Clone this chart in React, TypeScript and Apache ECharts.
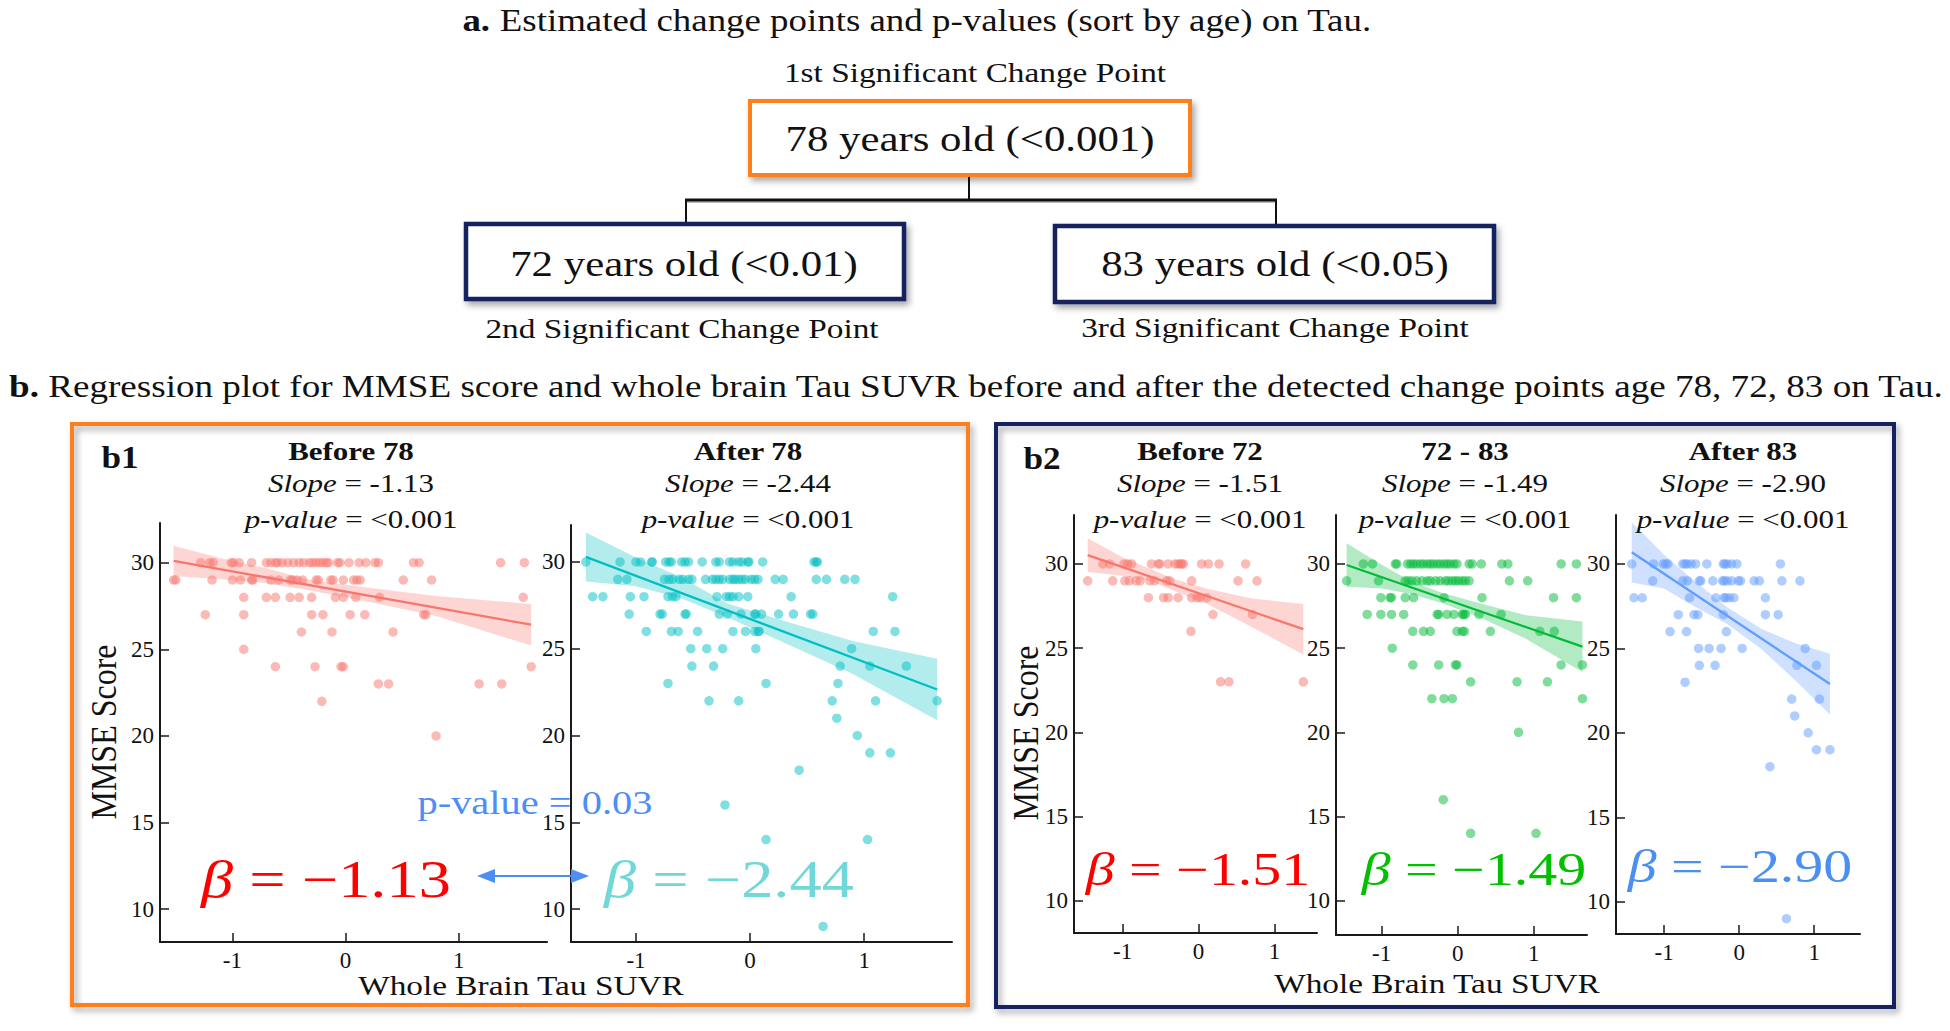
import React, { useEffect, useRef } from "react";
import * as echarts from "echarts";

// ---------- tick labels ----------
const yTicks = [10, 15, 20, 25, 30];
const xTicks = [-1, 0, 1];

// ---------- scatter data: [MMSE score, [Tau SUVR values...]] ----------
const before78: [number, number[]][] = [
  [30, [-1.28, -1.2, -1.17, -1.01, -0.99, -0.94, -0.83, -0.7, -0.66, -0.62, -0.6, -0.56, -0.51, -0.46, -0.41, -0.37, -0.32, -0.29, -0.26, -0.23, -0.2, -0.17, -0.15, -0.07, -0.05, 0.03, 0.12, 0.18, 0.26, 0.29, 0.6, 0.65, 1.37, 1.58]],
  [29, [-1.52, -1.5, -1.18, -1.0, -0.93, -0.83, -0.82, -0.66, -0.59, -0.49, -0.47, -0.43, -0.38, -0.26, -0.24, -0.13, -0.11, -0.02, 0.07, 0.1, 0.13, 0.51, 0.76]],
  [28, [-0.9, -0.7, -0.62, -0.49, -0.41, -0.3, -0.09, -0.02, 0.09, 0.3, 1.57]],
  [27, [-1.24, -0.9, -0.3, -0.2, 0.04, 0.17, 0.69, 0.71]],
  [26, [-0.39, -0.12, 0.42]],
  [25, [-0.9]],
  [24, [-0.62, -0.27, -0.04, -0.02, 1.64]],
  [23, [0.29, 0.38, 1.18, 1.38]],
  [22, [-0.21]],
  [20, [0.8]],
];
const after78: [number, number[]][] = [
  [30, [-1.44, -1.14, -1.0, -0.96, -0.86, -0.86, -0.74, -0.71, -0.69, -0.6, -0.57, -0.54, -0.42, -0.3, -0.27, -0.18, -0.15, -0.1, -0.07, -0.02, -0.01, 0.11, 0.56, 0.58, 0.59]],
  [29, [-1.16, -1.08, -0.75, -0.71, -0.68, -0.62, -0.59, -0.54, -0.51, -0.39, -0.33, -0.3, -0.27, -0.24, -0.18, -0.15, -0.13, -0.1, -0.07, -0.04, 0.01, 0.04, 0.07, 0.22, 0.29, 0.58, 0.67, 0.83, 0.92]],
  [28, [-1.38, -1.29, -1.05, -0.93, -0.72, -0.68, -0.65, -0.29, -0.21, -0.18, -0.15, -0.1, -0.02, 0.36, 1.25]],
  [27, [-1.06, -0.79, -0.77, -0.57, -0.56, -0.27, -0.2, -0.08, 0.04, 0.05, 0.1, 0.25, 0.38, 0.53, 0.55]],
  [26, [-0.91, -0.69, -0.63, -0.46, -0.15, -0.04, 0.04, 0.07, 0.08, 1.08, 1.27]],
  [25, [-0.52, -0.38, -0.24, 0.05, 0.89]],
  [24, [-0.51, -0.32, 0.79, 1.05, 1.37]],
  [23, [-0.72, 0.14, 0.77]],
  [22, [-0.36, -0.1, 0.72, 1.1, 1.64]],
  [21, [0.76]],
  [20, [0.94]],
  [19, [1.05, 1.23]],
  [18, [0.43]],
  [16, [-0.22]],
  [14, [0.14, 1.03]],
  [9, [0.64]],
];
const before72: [number, number[]][] = [
  [30, [-1.26, -1.17, -0.98, -0.93, -0.88, -0.62, -0.53, -0.51, -0.4, -0.31, -0.27, -0.24, -0.22, -0.2, 0.04, 0.13, 0.27, 0.62]],
  [29, [-1.46, -1.13, -0.97, -0.91, -0.82, -0.77, -0.64, -0.58, -0.42, -0.38, -0.09, 0.52, 0.77]],
  [28, [-0.66, -0.46, -0.4, -0.27, -0.09, -0.02, 0.02, 0.11]],
  [27, [0.19, 0.71]],
  [26, [-0.1]],
  [23, [0.29, 0.4, 1.38]],
];
const from72to83: [number, number[]][] = [
  [30, [-1.24, -1.12, -0.82, -0.8, -0.66, -0.62, -0.58, -0.54, -0.49, -0.45, -0.4, -0.36, -0.32, -0.27, -0.23, -0.18, -0.14, -0.1, -0.05, -0.01, 0.15, 0.19, 0.31, 0.58, 0.66, 1.36, 1.56]],
  [29, [-1.46, -1.04, -0.69, -0.65, -0.6, -0.54, -0.47, -0.4, -0.36, -0.29, -0.23, -0.16, -0.12, -0.07, -0.03, 0.01, 0.06, 0.1, 0.15, 0.68, 0.92]],
  [28, [-1.01, -0.89, -0.87, -0.69, -0.58, -0.18, 0.32, 1.26, 1.56]],
  [27, [-1.19, -1.01, -0.87, -0.71, -0.27, -0.25, -0.14, -0.05, 0.06, 0.08, 0.1, 0.28, 0.57]],
  [26, [-0.59, -0.45, -0.36, -0.01, 0.06, 0.09, 0.43, 1.08, 1.27]],
  [25, [-0.86]],
  [24, [-0.59, -0.25, -0.03, -0.01, 1.36, 1.64]],
  [23, [0.17, 0.78, 1.18]],
  [22, [-0.34, -0.18, -0.07, 1.64]],
  [20, [0.8]],
  [16, [-0.19]],
  [14, [0.17, 1.03]],
];
const after83: [number, number[]][] = [
  [30, [-1.43, -1.14, -1.01, -0.98, -0.95, -0.75, -0.72, -0.69, -0.64, -0.58, -0.43, -0.21, -0.19, -0.16, -0.1, -0.03, 0.55]],
  [29, [-1.15, -0.75, -0.69, -0.53, -0.51, -0.35, -0.22, -0.2, -0.16, -0.1, -0.01, 0.02, 0.2, 0.27, 0.57, 0.81]],
  [28, [-1.4, -1.29, -0.66, -0.31, -0.2, -0.18, -0.13, -0.07, 0.35]],
  [27, [-0.81, -0.6, -0.55, -0.21, 0.35, 0.52]],
  [26, [-0.92, -0.7, -0.17]],
  [25, [-0.54, -0.4, -0.24, 0.04, 0.88]],
  [24, [-0.53, -0.32, 0.77, 1.03]],
  [23, [-0.72]],
  [22, [0.7, 1.07]],
  [21, [0.74]],
  [20, [0.92]],
  [19, [1.03, 1.21]],
  [18, [0.41]],
  [9, [0.63]],
];

// ---------- regression lines (end points) ----------
const fitBefore78 = [[-1.52, 30.1], [1.64, 26.42]];
const fitAfter78 = [[-1.44, 30.29], [1.64, 22.65]];
const fitBefore72 = [[-1.46, 30.53], [1.38, 26.13]];
const fit72to83 = [[-1.46, 29.94], [1.64, 25.09]];
const fitAfter83 = [[-1.43, 30.69], [1.21, 22.89]];

// ---------- confidence bands ----------
const bandBefore78X = [-1.52, -1.1, -0.7, -0.3, 0.2, 0.8, 1.64];
const bandBefore78Up = [30.97, 30.25, 29.68, 28.98, 28.55, 28.08, 27.62];
const bandBefore78Lo = [29.23, 29.05, 28.82, 28.38, 27.75, 26.92, 25.22];
const bandAfter78X = [-1.44, -1.0, -0.6, -0.2, 0.3, 0.9, 1.64];
const bandAfter78Up = [31.7, 30.25, 29.1, 27.61, 26.6, 25.45, 24.42];
const bandAfter78Lo = [28.88, 28.6, 27.9, 26.81, 25.35, 23.55, 20.88];
const bandBefore72X = [-1.46, -1.0, -0.6, -0.35, 0.1, 0.7, 1.38];
const bandBefore72Up = [31.53, 30.4, 29.65, 29.16, 28.55, 27.95, 27.63];
const bandBefore72Lo = [29.53, 29.3, 28.95, 28.46, 27.65, 26.25, 24.63];
const band72to83X = [-1.46, -1.0, -0.6, -0.2, 0.3, 0.9, 1.64];
const band72to83Up = [31.23, 29.95, 28.95, 28.27, 27.65, 26.95, 26.59];
const band72to83Lo = [28.65, 28.55, 28.2, 27.67, 26.8, 25.55, 23.59];
const bandAfter83X = [-1.43, -1.0, -0.6, -0.15, 0.3, 0.75, 1.21];
const bandAfter83Up = [32.47, 30.55, 29.0, 27.41, 26.15, 25.3, 24.69];
const bandAfter83Lo = [28.91, 28.55, 27.5, 26.41, 24.95, 23.1, 21.09];

// ---------- labels ----------
const panelTitles = ["Before 78", "After 78", "Before 72", "72 - 83", "After 83"];
const slopeTexts = ["-1.13", "-2.44", "-1.51", "-1.49", "-2.90"];
const pTexts = ["<0.001", "<0.001", "<0.001", "<0.001", "<0.001"];
const betaTexts = ["\u22121.13", "\u22122.44", "\u22121.51", "\u22121.49", "\u22122.90"];

const FONT = "'Liberation Serif', 'Times New Roman', serif";
const SX = 1.19;
const ORANGE = "#FF7F1A";
const NAVY = "#14205E";
const pointColors = ["#F8766D", "#00BFC4", "#F8766D", "#00BA38", "#619CFF"];
const betaColors = ["#FF0000", "#70D8D8", "#FF0000", "#00C000", "#4A8FF2"];

const plots = [
  { pts: before78, fit: fitBefore78, bx: bandBefore78X, bu: bandBefore78Up, bl: bandBefore78Lo },
  { pts: after78, fit: fitAfter78, bx: bandAfter78X, bu: bandAfter78Up, bl: bandAfter78Lo },
  { pts: before72, fit: fitBefore72, bx: bandBefore72X, bu: bandBefore72Up, bl: bandBefore72Lo },
  { pts: from72to83, fit: fit72to83, bx: band72to83X, bu: band72to83Up, bl: band72to83Lo },
  { pts: after83, fit: fitAfter83, bx: bandAfter83X, bu: bandAfter83Up, bl: bandAfter83Lo },
];

// layout of the five plot areas
const layout = [
  { left: 160, top: 523, width: 387, height: 419, xMin: -1.64, xMax: 1.78, yMin: 8.11, yMax: 32.29, tx: 351, bx: 326, by: 880, bs: 52, bsx: 1.24 },
  { left: 571, top: 525, width: 381, height: 417, xMin: -1.57, xMax: 1.77, yMin: 8.1, yMax: 32.13, tx: 748, bx: 729, by: 880, bs: 52, bsx: 1.24 },
  { left: 1074, top: 515, width: 243, height: 418, xMin: -1.64, xMax: 1.56, yMin: 8.08, yMax: 32.91, tx: 1200, bx: 1198, by: 869, bs: 46, bsx: 1.26 },
  { left: 1336, top: 515, width: 251, height: 420, xMin: -1.6, xMax: 1.7, yMin: 7.96, yMax: 32.91, tx: 1465, bx: 1474, by: 869, bs: 46, bsx: 1.26 },
  { left: 1616, top: 515, width: 244, height: 419, xMin: -1.64, xMax: 1.61, yMin: 8.09, yMax: 32.9, tx: 1743, bx: 1740, by: 866, bs: 46, bsx: 1.26 },
];

function T(x: number, y: number, text: string, size: number, o: any = {}) {
  return {
    type: "text",
    x,
    y,
    scaleX: o.sx ?? SX,
    scaleY: o.sy ?? 1,
    rotation: o.rot ?? 0,
    z: 100,
    style: {
      text,
      fontSize: size,
      fontFamily: o.family ?? FONT,
      fontWeight: o.bold ? "bold" : "normal",
      fontStyle: o.italic ? "italic" : "normal",
      fill: o.color ?? "#111",
      align: o.align ?? "center",
      verticalAlign: "middle",
      rich: o.rich,
    },
  };
}

function buildOption() {
  const axisLine = { show: true, onZero: false, lineStyle: { color: "#1a1a1a", width: 2 } };
  const tickStyle = { color: "#1a1a1a", width: 1.5 };
  const labelStyle = { fontSize: 23, fontFamily: FONT, color: "#111" };

  const grid = layout.map((g) => ({ left: g.left, top: g.top, width: g.width, height: g.height, containLabel: false }));
  const xAxis = layout.map((g, i) => ({
    type: "value",
    gridIndex: i,
    min: g.xMin,
    max: g.xMax,
    axisLine,
    axisTick: { show: true, inside: true, length: 9, lineStyle: tickStyle, customValues: xTicks },
    axisLabel: { ...labelStyle, margin: 7, customValues: xTicks },
    splitLine: { show: false },
  }));
  const yAxis = layout.map((g, i) => ({
    type: "value",
    gridIndex: i,
    min: g.yMin,
    max: g.yMax,
    axisLine,
    axisTick: { show: true, inside: true, length: 9, lineStyle: tickStyle, customValues: yTicks },
    axisLabel: { ...labelStyle, margin: 6, customValues: yTicks },
    splitLine: { show: false },
  }));

  const series: any[] = [];
  plots.forEach((p, i) => {
    const c = pointColors[i];
    series.push({
      type: "custom",
      xAxisIndex: i,
      yAxisIndex: i,
      data: p.bx.map((x, k) => [x, p.bl[k], p.bu[k]]),
      encode: { x: 0, y: [1, 2] },
      silent: true,
      z: 1,
      renderItem: (params: any, api: any) => {
        if (params.dataIndex !== 0) return null;
        const up = p.bx.map((x, k) => api.coord([x, p.bu[k]]));
        const lo = p.bx.map((x, k) => api.coord([x, p.bl[k]])).reverse();
        return {
          type: "polygon",
          shape: { points: up.concat(lo) },
          style: { fill: c, opacity: 0.3 },
        };
      },
    });
    const pts: number[][] = [];
    p.pts.forEach(([y, xs]) => xs.forEach((x) => pts.push([x, y])));
    series.push({
      type: "scatter",
      xAxisIndex: i,
      yAxisIndex: i,
      data: pts,
      symbolSize: 9.5,
      itemStyle: { color: c, opacity: 0.5 },
      z: 3,
    });
    series.push({
      type: "line",
      xAxisIndex: i,
      yAxisIndex: i,
      data: p.fit,
      symbol: "none",
      lineStyle: { color: c, width: 2.3 },
      z: 4,
    });
  });

  const shadow = { shadowBlur: 6, shadowColor: "rgba(0,0,0,0.35)", shadowOffsetX: 3, shadowOffsetY: 4 };
  const g: any[] = [];
  // ---- section a ----
  g.push(
    T(917, 21, "{b|a.} Estimated change points and p-values (sort by age) on Tau.", 31, {
      rich: { b: { fontWeight: "bold", fontSize: 31, fontFamily: FONT } },
    })
  );
  g.push(T(975, 73, "1st Significant Change Point", 28));
  g.push({ type: "rect", shape: { x: 750, y: 101, width: 440, height: 74 }, style: { fill: "#fff", stroke: ORANGE, lineWidth: 4, ...shadow }, z: 10 });
  g.push({ type: "rect", shape: { x: 466, y: 224, width: 438, height: 75 }, style: { fill: "#fff", stroke: NAVY, lineWidth: 4.5, ...shadow }, z: 10 });
  g.push({ type: "rect", shape: { x: 1055, y: 226, width: 439, height: 76 }, style: { fill: "#fff", stroke: NAVY, lineWidth: 4.5, ...shadow }, z: 10 });
  g.push({ type: "line", shape: { x1: 969, y1: 177, x2: 969, y2: 200 }, style: { stroke: "#111", lineWidth: 2 }, z: 9 });
  g.push({ type: "rect", shape: { x: 685, y: 201, width: 592, height: 2 }, style: { fill: "rgba(0,0,0,0.25)" }, z: 8 });
  g.push({ type: "rect", shape: { x: 685, y: 198.5, width: 592, height: 3 }, style: { fill: "#111" }, z: 9 });
  g.push({ type: "line", shape: { x1: 686, y1: 200, x2: 686, y2: 223 }, style: { stroke: "#111", lineWidth: 2 }, z: 9 });
  g.push({ type: "line", shape: { x1: 1276, y1: 200, x2: 1276, y2: 225 }, style: { stroke: "#111", lineWidth: 2 }, z: 9 });
  g.push(T(970, 139, "78 years old (<0.001)", 36));
  g.push(T(684, 264, "72 years old (<0.01)", 36));
  g.push(T(1275, 264, "83 years old (<0.05)", 36));
  g.push(T(682, 329, "2nd Significant Change Point", 28));
  g.push(T(1275, 328, "3rd Significant Change Point", 28));

  // ---- section b ----
  g.push(
    T(9, 387, "{b|b.} Regression plot for MMSE score and whole brain Tau SUVR before and after the detected change points age 78, 72, 83 on Tau.", 31, {
      align: "left",
      sx: 1.197,
      rich: { b: { fontWeight: "bold", fontSize: 31, fontFamily: FONT } },
    })
  );
  g.push({ type: "rect", shape: { x: 72, y: 424, width: 896, height: 581 }, style: { fill: "none", stroke: ORANGE, lineWidth: 4, ...shadow }, z: 0 });
  g.push({ type: "rect", shape: { x: 996, y: 424, width: 898, height: 583 }, style: { fill: "none", stroke: NAVY, lineWidth: 4, ...shadow }, z: 0 });
  g.push(T(120, 457, "b1", 32, { bold: true, sx: 1.1 }));
  g.push(T(1042, 458, "b2", 32, { bold: true, sx: 1.1 }));

  layout.forEach((L, i) => {
    g.push(T(L.tx, 451, panelTitles[i], 26, { bold: true }));
    g.push(
      T(L.tx, 483, "{i|Slope} = " + slopeTexts[i], 26, {
        rich: { i: { fontStyle: "italic", fontSize: 26, fontFamily: FONT } },
      })
    );
    g.push(
      T(L.tx, 519, "{i|p-value} = " + pTexts[i], 26, {
        rich: { i: { fontStyle: "italic", fontSize: 26, fontFamily: FONT } },
      })
    );
    g.push(
      T(L.bx, L.by, "{i|\u03b2} = " + betaTexts[i], L.bs, {
        color: betaColors[i],
        sx: L.bsx,
        rich: { i: { fontStyle: "italic", fontSize: L.bs, fontFamily: FONT } },
      })
    );
  });

  g.push(T(104, 732, "MMSE Score", 32, { rot: Math.PI / 2, sx: 1, sy: 1.1 }));
  g.push(T(1026, 733, "MMSE Score", 32, { rot: Math.PI / 2, sx: 1, sy: 1.1 }));
  g.push(T(521, 986, "Whole Brain Tau SUVR", 28));
  g.push(T(1437, 984, "Whole Brain Tau SUVR", 28));

  // p-value arrow
  const BLUE = "#4C8DF6";
  g.push(T(535, 803, "p-value = 0.03", 34, { color: BLUE }));
  g.push({ type: "line", shape: { x1: 490, y1: 876, x2: 576, y2: 876 }, style: { stroke: BLUE, lineWidth: 2 }, z: 50 });
  g.push({ type: "polygon", shape: { points: [[477, 876], [495, 869], [495, 883]] }, style: { fill: BLUE }, z: 50 });
  g.push({ type: "polygon", shape: { points: [[589, 876], [571, 869], [571, 883]] }, style: { fill: BLUE }, z: 50 });

  return {
    animation: false,
    backgroundColor: "#fff",
    grid,
    xAxis,
    yAxis,
    series,
    graphic: { elements: g },
  };
}

export default function App() {
  const ref = useRef<HTMLDivElement>(null);
  useEffect(() => {
    const chart = echarts.init(ref.current!, null, { renderer: "svg" });
    chart.setOption(buildOption() as any);
    return () => chart.dispose();
  }, []);
  return (
    <div
      ref={ref}
      style={{ position: "fixed", left: 0, top: 0, width: 1950, height: 1031, background: "#fff" }}
    />
  );
}
